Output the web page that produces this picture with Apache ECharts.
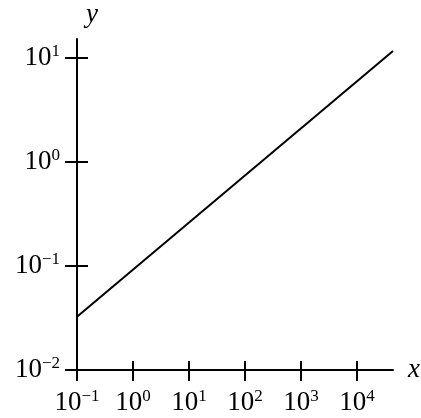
<!DOCTYPE html>
<html>
<head>
<meta charset="utf-8">
<script src="https://cdn.jsdelivr.net/npm/echarts@6/dist/echarts.min.js"></script>
<style>
  html, body { margin: 0; padding: 0; background: #ffffff; }
  #chart { width: 421px; height: 418px; }
</style>
</head>
<body>
<div id="chart"></div>
<script>
// Straight power-law line drawn on log–log axes.
const xTickExponents = [-1, 0, 1, 2, 3, 4];   // labelled decades on x
const yTickExponents = [-2, -1, 0, 1];        // labelled decades on y
const xAxisEnd = 44500;                        // x axis runs on past 10^4
const yAxisEnd = 15.3;                         // y axis runs on past 10^1
const lineX = [0.1, 44500];
const lineY = [0.0326, 11.75];

const FONT = '"Liberation Serif", "Times New Roman", Times, serif';
const INK = '#000000';

const xMin = Math.pow(10, xTickExponents[0]);
const xMax = Math.pow(10, xTickExponents[xTickExponents.length - 1]);
const yMin = Math.pow(10, yTickExponents[0]);
const yMax = Math.pow(10, yTickExponents[yTickExponents.length - 1]);

// "10" with a raised exponent
function powLabel(v) {
  const e = Math.round(Math.log10(v));
  const s = e < 0 ? '\u2212' + (-e) : String(e);
  return '{b|10}{s|' + s + '}';
}
const rich = {
  b: { fontFamily: FONT, fontSize: 27, lineHeight: 30, color: INK },
  s: { fontFamily: FONT, fontSize: 17, lineHeight: 15, verticalAlign: 'top', color: INK }
};
const nameStyle = { fontFamily: FONT, fontStyle: 'italic', fontSize: 27, color: INK };
const tickLine = { color: INK, width: 2 };

const option = {
  animation: false,
  backgroundColor: '#ffffff',
  textStyle: { fontFamily: FONT },
  grid: [
    // axis lines, names and the data line
    { left: 77, right: 28, top: 39, bottom: 48, outerBoundsMode: 'none', containLabel: false },
    // decade ticks and labels
    { left: 77, right: 64, top: 58, bottom: 48, outerBoundsMode: 'none', containLabel: false }
  ],
  xAxis: [
    {
      type: 'log', gridIndex: 0, min: xMin, max: xAxisEnd, position: 'bottom',
      axisLine: { show: true, onZero: false, lineStyle: { color: INK, width: 2 } },
      axisTick: { show: false }, axisLabel: { show: false }, splitLine: { show: false },
      name: 'x', nameLocation: 'end', nameGap: 15, nameMoveOverlap: false,
      nameTextStyle: Object.assign({}, nameStyle, { padding: [0, 0, 5, 0] })
    },
    {
      type: 'log', gridIndex: 1, min: xMin, max: xMax, position: 'bottom',
      axisLine: { show: false, onZero: false },
      axisTick: { show: true, inside: false, length: 11, lineStyle: tickLine },
      axisLabel: { show: true, formatter: powLabel, rich: rich, margin: 18,
                   fontFamily: FONT, fontSize: 27,
                   showMinLabel: true, showMaxLabel: true, hideOverlap: false },
      splitLine: { show: false }
    },
    {
      type: 'log', gridIndex: 1, min: xMin, max: xMax, position: 'bottom',
      axisLine: { show: false, onZero: false },
      axisTick: { show: true, inside: true, length: 9, lineStyle: tickLine },
      axisLabel: { show: false }, splitLine: { show: false }
    }
  ],
  yAxis: [
    {
      type: 'log', gridIndex: 0, min: yMin, max: yAxisEnd, position: 'left',
      axisLine: { show: true, onZero: false, lineStyle: { color: INK, width: 2 } },
      axisTick: { show: false }, axisLabel: { show: false }, splitLine: { show: false },
      name: 'y', nameLocation: 'end', nameGap: 10.5, nameMoveOverlap: false,
      nameTextStyle: Object.assign({}, nameStyle, { align: 'left', padding: [0, 0, 0, 9] })
    },
    {
      type: 'log', gridIndex: 1, min: yMin, max: yMax, position: 'left',
      axisLine: { show: false, onZero: false },
      axisTick: { show: true, inside: false, length: 12, lineStyle: tickLine },
      axisLabel: { show: true, formatter: powLabel, rich: rich, margin: 17,
                   fontFamily: FONT, fontSize: 27,
                   showMinLabel: true, showMaxLabel: true, hideOverlap: false },
      splitLine: { show: false }
    },
    {
      type: 'log', gridIndex: 1, min: yMin, max: yMax, position: 'left',
      axisLine: { show: false, onZero: false },
      axisTick: { show: true, inside: true, length: 11, lineStyle: tickLine },
      axisLabel: { show: false }, splitLine: { show: false }
    }
  ],
  series: [
    {
      type: 'line', xAxisIndex: 0, yAxisIndex: 0,
      data: lineX.map((x, i) => [x, lineY[i]]),
      showSymbol: false, symbol: 'none',
      lineStyle: { color: INK, width: 2 }
    }
  ]
};

// wait for the serif faces so text is measured and drawn with them
function draw() {
  const chart = echarts.init(document.getElementById('chart'), null, { renderer: 'canvas' });
  chart.setOption(option);
}
const faces = ['27px "Liberation Serif"', 'italic 27px "Liberation Serif"', '17px "Liberation Serif"'];
const ready = (document.fonts && document.fonts.load)
  ? Promise.all(faces.map(f => document.fonts.load(f, '10\u22121xy'))).catch(() => null)
  : Promise.resolve();
ready.then(() => setTimeout(draw, 120));
</script>
</body>
</html>
